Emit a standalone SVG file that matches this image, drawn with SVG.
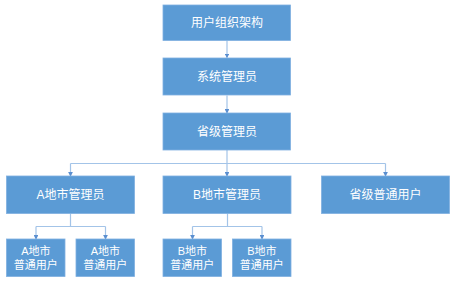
<svg xmlns="http://www.w3.org/2000/svg" width="459" height="283" viewBox="0 0 459 283">
<defs>
<style>
.box{fill:#5B9BD5;stroke:#7FB0E0;stroke-width:0.8}
.t{font-family:"Liberation Sans","Noto Sans CJK SC",sans-serif;font-size:12px;fill:#ffffff;text-anchor:middle;dominant-baseline:central}
.s{font-size:11px}
.c{fill:none;stroke:#A3C4E8;stroke-width:1.2}
</style>
<marker id="ah" viewBox="0 0 6 6" refX="5" refY="3" markerWidth="4" markerHeight="4" orient="auto">
<path d="M0,0 L6,3 L0,6 z" fill="#5B8FD0"/>
</marker>
</defs>
<rect width="459" height="283" fill="#ffffff"/>
<g id="connectors">
<path class="c" d="M227,40.5 V57.5" marker-end="url(#ah)"/>
<path class="c" d="M227,95.5 V113" marker-end="url(#ah)"/>
<path class="c" d="M227,150 V176" marker-end="url(#ah)"/>
<path class="c" d="M70.5,163.5 H385.5"/>
<path class="c" d="M70.5,163.5 V176" marker-end="url(#ah)"/>
<path class="c" d="M385.5,163.5 V176" marker-end="url(#ah)"/>
<path class="c" d="M70.5,213.5 V226.5"/>
<path class="c" d="M36,226.5 H105.5"/>
<path class="c" d="M36,226.5 V239" marker-end="url(#ah)"/>
<path class="c" d="M105.5,226.5 V239" marker-end="url(#ah)"/>
<path class="c" d="M227.5,213.5 V226.5"/>
<path class="c" d="M192.5,226.5 H262"/>
<path class="c" d="M192.5,226.5 V239" marker-end="url(#ah)"/>
<path class="c" d="M262,226.5 V239" marker-end="url(#ah)"/>
</g>
<g id="n-root"><rect class="box" x="163" y="5" width="127.5" height="35.5"/><text class="t" x="227" y="23">用户组织架构</text></g>
<g id="n-sys"><rect class="box" x="163" y="58" width="127.5" height="37"/><text class="t" x="227" y="77">系统管理员</text></g>
<g id="n-prov"><rect class="box" x="163" y="113" width="127.5" height="37"/><text class="t" x="227" y="132">省级管理员</text></g>
<g id="n-a"><rect class="box" x="6.5" y="176" width="128" height="37.5"/><text class="t" x="70.5" y="195">A地市管理员</text></g>
<g id="n-b"><rect class="box" x="163" y="176" width="128" height="37.5"/><text class="t" x="227" y="195">B地市管理员</text></g>
<g id="n-pu"><rect class="box" x="321.5" y="176" width="128" height="37.5"/><text class="t" x="385.5" y="195">省级普通用户</text></g>
<g id="n-a1"><rect class="box" x="6.5" y="239" width="58.5" height="37.5"/><text class="t s" x="35.8" y="251">A地市</text><text class="t s" x="35.8" y="265">普通用户</text></g>
<g id="n-a2"><rect class="box" x="76" y="239" width="58.5" height="37.5"/><text class="t s" x="105.3" y="251">A地市</text><text class="t s" x="105.3" y="265">普通用户</text></g>
<g id="n-b1"><rect class="box" x="163" y="239" width="58.5" height="37.5"/><text class="t s" x="192.3" y="251">B地市</text><text class="t s" x="192.3" y="265">普通用户</text></g>
<g id="n-b2"><rect class="box" x="232.5" y="239" width="58.5" height="37.5"/><text class="t s" x="261.8" y="251">B地市</text><text class="t s" x="261.8" y="265">普通用户</text></g>
</svg>
